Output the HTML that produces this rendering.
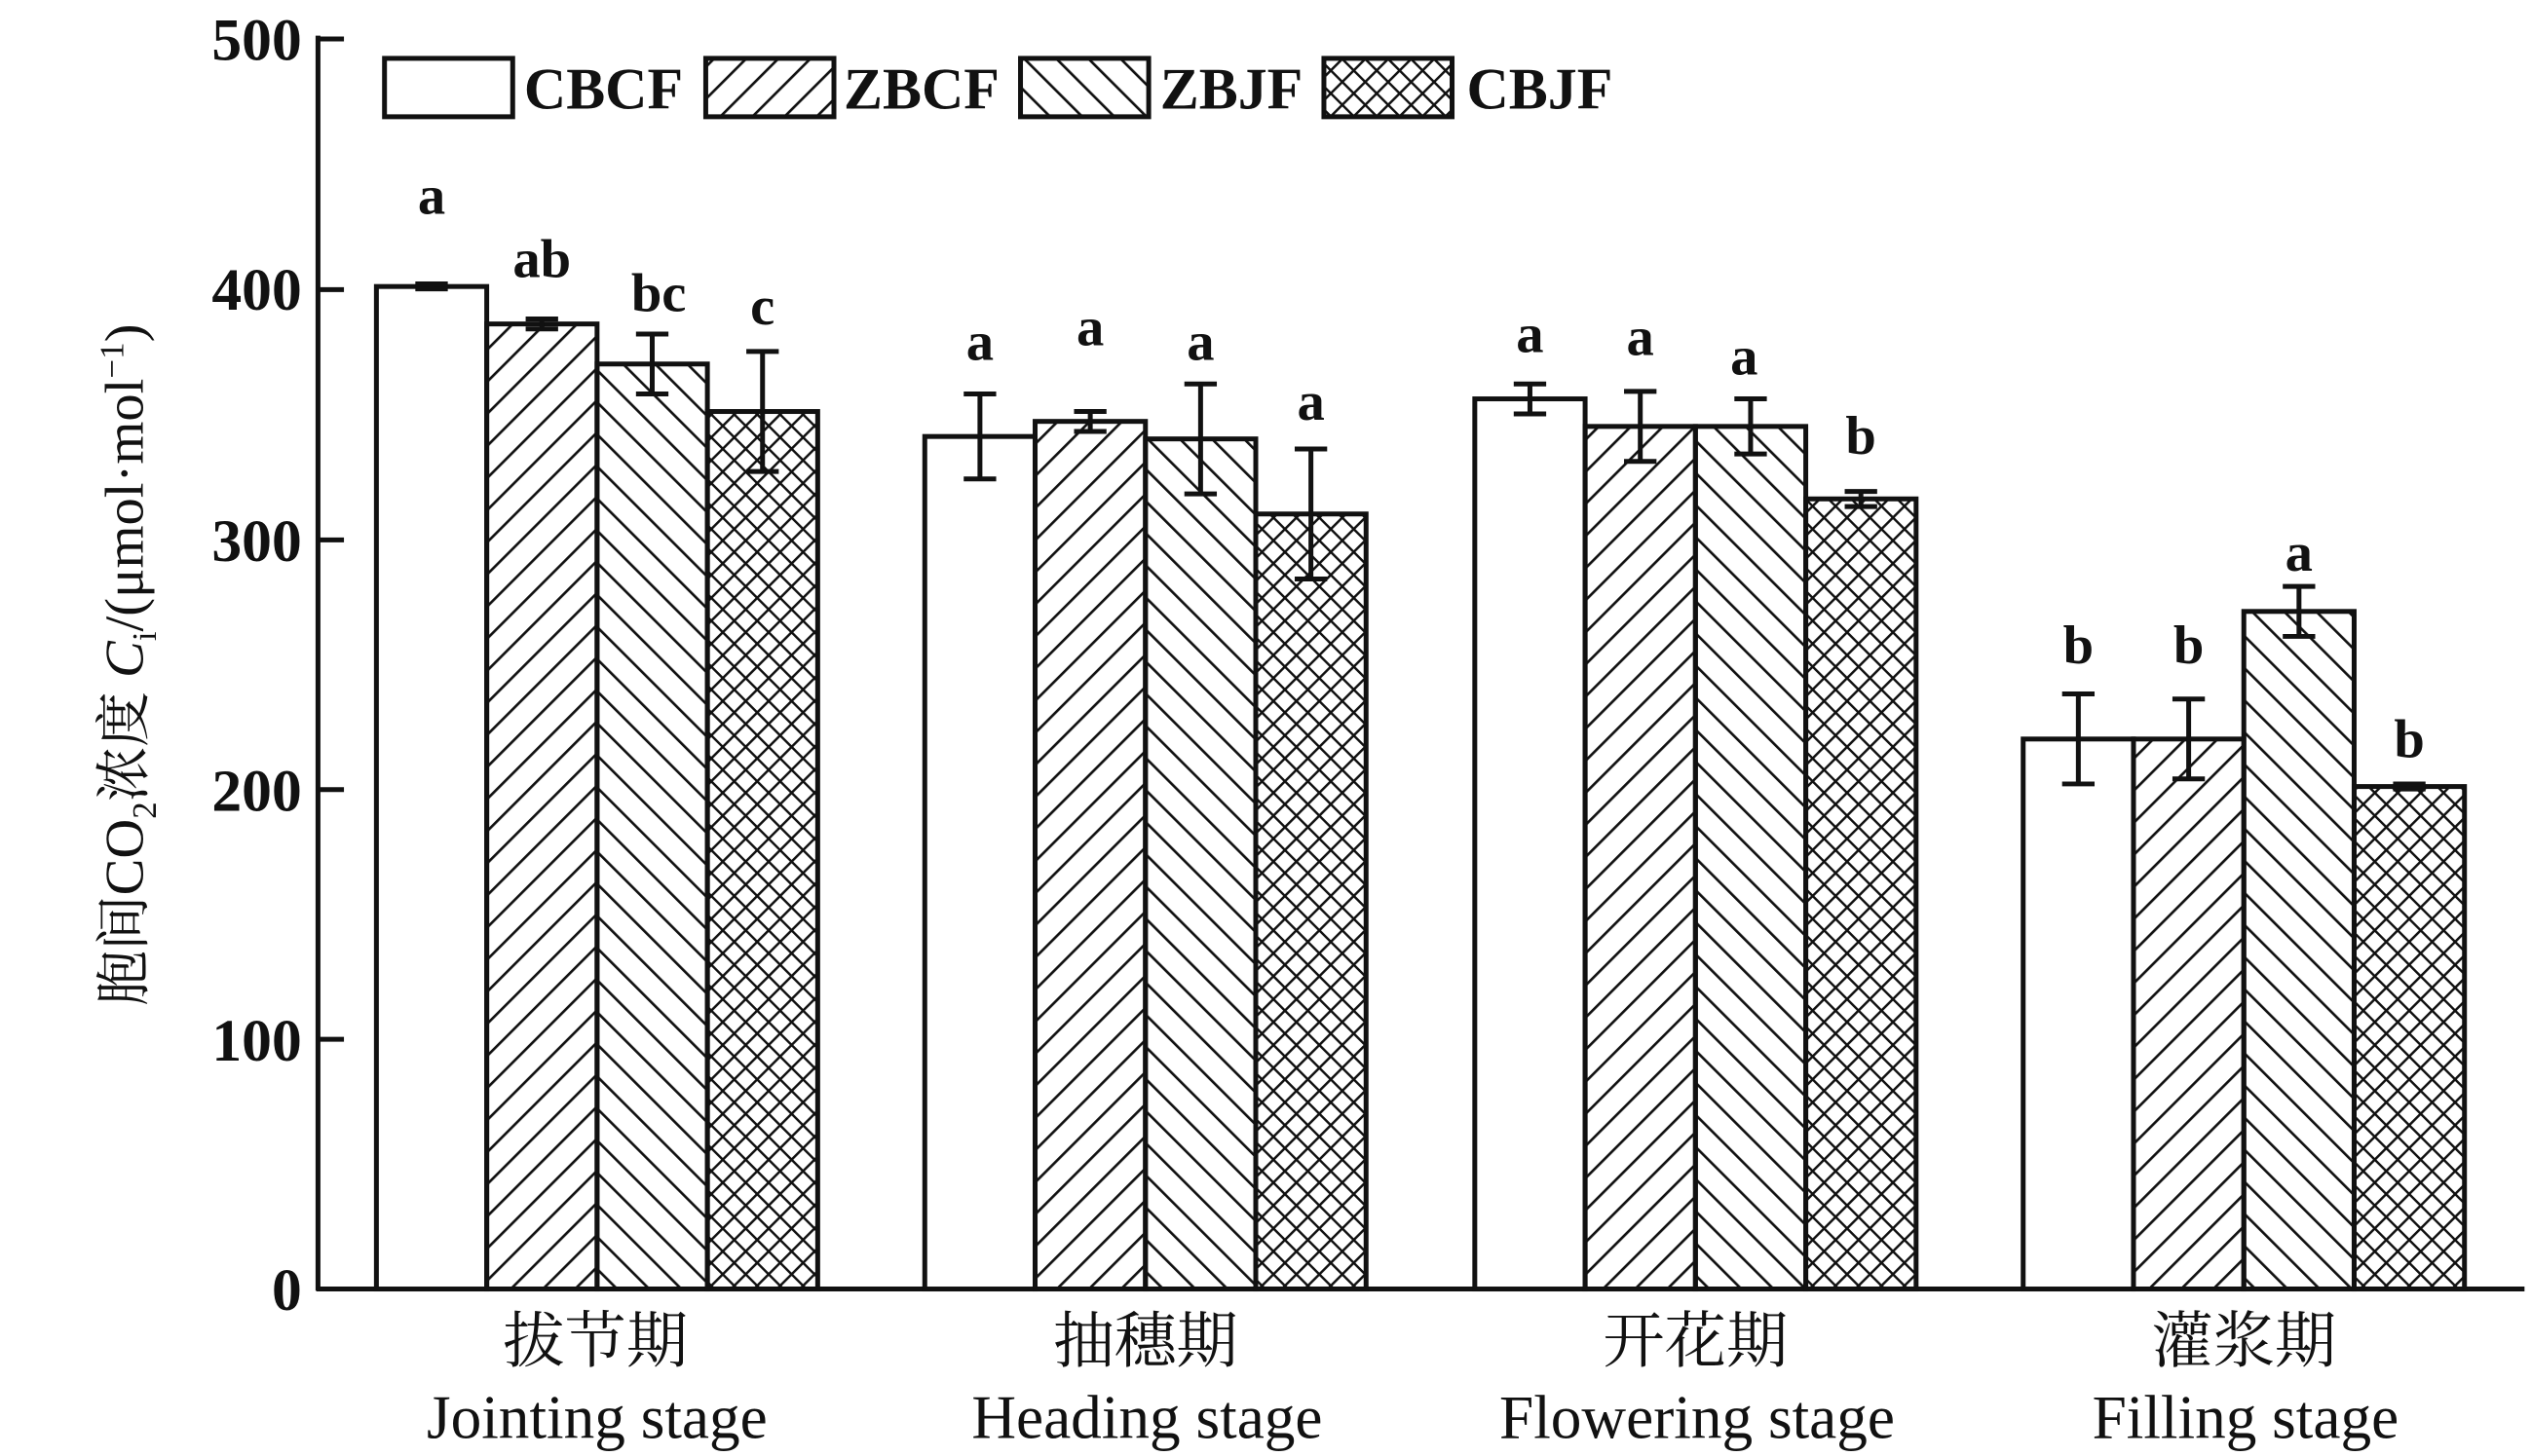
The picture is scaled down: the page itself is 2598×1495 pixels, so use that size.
<!DOCTYPE html>
<html><head><meta charset="utf-8"><style>html,body{margin:0;padding:0;background:#fff}svg{display:block}</style></head><body>
<svg width="2598" height="1495" viewBox="0 0 1560 898" preserveAspectRatio="none" xmlns="http://www.w3.org/2000/svg" font-family="'Liberation Serif','Noto Serif CJK SC',serif">
<defs>
<pattern id="p1" patternUnits="userSpaceOnUse" width="14" height="14" patternTransform="rotate(45)"><line x1="0" y1="0" x2="0" y2="14" stroke="#111" stroke-width="3.2"/></pattern>
<pattern id="p2" patternUnits="userSpaceOnUse" width="14" height="14" patternTransform="rotate(-45)"><line x1="0" y1="0" x2="0" y2="14" stroke="#111" stroke-width="3.2"/></pattern>
<pattern id="p3" patternUnits="userSpaceOnUse" width="10" height="10" patternTransform="rotate(45)"><line x1="0" y1="0" x2="0" y2="10" stroke="#111" stroke-width="3"/><line x1="0" y1="0" x2="10" y2="0" stroke="#111" stroke-width="3"/></pattern>
</defs>
<g stroke="#111" stroke-width="3" fill="none">
<line x1="196" y1="22" x2="196" y2="796"/>
<line x1="195" y1="795" x2="1556" y2="795"/>
<line x1="196" y1="24" x2="212" y2="24"/><line x1="196" y1="178.6" x2="212" y2="178.6"/><line x1="196" y1="333" x2="212" y2="333"/><line x1="196" y1="487" x2="212" y2="487"/><line x1="196" y1="641" x2="212" y2="641"/>
</g>
<g font-size="37" font-weight="bold" fill="#111" text-anchor="end">
<text x="186" y="37">500</text><text x="186" y="191">400</text><text x="186" y="346">300</text><text x="186" y="500">200</text><text x="186" y="654">100</text><text x="186" y="808">0</text>
</g>
<text transform="translate(88,410) rotate(-90)" text-anchor="middle" font-size="34" fill="#111">胞间CO<tspan font-size="21" dy="8">2</tspan><tspan dy="-8">浓度 </tspan><tspan font-style="italic">C</tspan><tspan font-size="21" dy="8">i</tspan><tspan dy="-8">/(μmol·mol</tspan><tspan font-size="21" dy="-12">−1</tspan><tspan dy="12">)</tspan></text>

<g stroke="#111" stroke-width="3">
<rect x="232" y="176.7" width="68" height="618.3" fill="#fff"/>
<rect x="300" y="199.8" width="68" height="595.2" fill="url(#p1)"/>
<rect x="368" y="224.5" width="68" height="570.5" fill="url(#p2)"/>
<rect x="436" y="253.8" width="68" height="541.2" fill="url(#p3)"/>
<rect x="570" y="269.2" width="68" height="525.8" fill="#fff"/>
<rect x="638" y="259.9" width="68" height="535.1" fill="url(#p1)"/>
<rect x="706" y="270.7" width="68" height="524.3" fill="url(#p2)"/>
<rect x="774" y="317" width="68" height="478" fill="url(#p3)"/>
<rect x="909" y="246" width="68" height="549" fill="#fff"/>
<rect x="977" y="263" width="68" height="532" fill="url(#p1)"/>
<rect x="1045" y="263" width="68" height="532" fill="url(#p2)"/>
<rect x="1113" y="307.7" width="68" height="487.3" fill="url(#p3)"/>
<rect x="1247" y="455.8" width="68" height="339.2" fill="#fff"/>
<rect x="1315" y="455.8" width="68" height="339.2" fill="url(#p1)"/>
<rect x="1383" y="377.1" width="68" height="417.9" fill="url(#p2)"/>
<rect x="1451" y="485.1" width="68" height="309.9" fill="url(#p3)"/>
</g>
<g stroke="#111" stroke-width="3" fill="none">
<path d="M266 175.1V178.2M256 175.1H276M256 178.2H276"/>
<path d="M334 196.7V202.9M324 196.7H344M324 202.9H344"/>
<path d="M402 206V243M392 206H412M392 243H412"/>
<path d="M470 216.8V290.8M460 216.8H480M460 290.8H480"/>
<path d="M604 243V295.4M594 243H614M594 295.4H614"/>
<path d="M672 253.8V266.1M662 253.8H682M662 266.1H682"/>
<path d="M740 236.8V304.6M730 236.8H750M730 304.6H750"/>
<path d="M808 276.9V357.1M798 276.9H818M798 357.1H818"/>
<path d="M943 236.8V255.3M933 236.8H953M933 255.3H953"/>
<path d="M1011 241.4V284.6M1001 241.4H1021M1001 284.6H1021"/>
<path d="M1079 246V280M1069 246H1089M1069 280H1089"/>
<path d="M1147 303.1V312.4M1137 303.1H1157M1137 312.4H1157"/>
<path d="M1281 428V483.5M1271 428H1291M1271 483.5H1291"/>
<path d="M1349 431.1V480.4M1339 431.1H1359M1339 480.4H1359"/>
<path d="M1417 361.7V392.5M1407 361.7H1427M1407 392.5H1427"/>
<path d="M1485 483.5V486.6M1475 483.5H1495M1475 486.6H1495"/>
</g>
<g font-size="34" font-weight="bold" fill="#111" text-anchor="middle">
<text x="266" y="132">a</text><text x="334" y="171">ab</text><text x="406" y="192">bc</text><text x="470" y="200">c</text>
<text x="604" y="222">a</text><text x="672" y="213">a</text><text x="740" y="222">a</text><text x="808" y="259">a</text>
<text x="943" y="217">a</text><text x="1011" y="219">a</text><text x="1075" y="231">a</text><text x="1147" y="280">b</text>
<text x="1281" y="409">b</text><text x="1349" y="409">b</text><text x="1417" y="352">a</text><text x="1485" y="467">b</text>
</g>

<g font-size="38" fill="#111" text-anchor="middle">
<text x="367" y="840">拔节期</text><text x="368" y="887">Jointing stage</text>
<text x="706" y="840">抽穗期</text><text x="707" y="887">Heading stage</text>
<text x="1045" y="840">开花期</text><text x="1046" y="887">Flowering stage</text>
<text x="1383" y="840">灌浆期</text><text x="1384" y="887">Filling stage</text>
</g>
<g stroke="#111" stroke-width="3">
<rect x="237" y="36" width="79" height="36" fill="#fff"/><rect x="435" y="36" width="79" height="36" fill="url(#p1)"/><rect x="629" y="36" width="79" height="36" fill="url(#p2)"/><rect x="816" y="36" width="79" height="36" fill="url(#p3)"/>
</g>
<g font-size="36" font-weight="bold" fill="#111">
<text x="323" y="67">CBCF</text><text x="520" y="67">ZBCF</text><text x="715" y="67">ZBJF</text><text x="904" y="67">CBJF</text>
</g>
</svg>
</body></html>
